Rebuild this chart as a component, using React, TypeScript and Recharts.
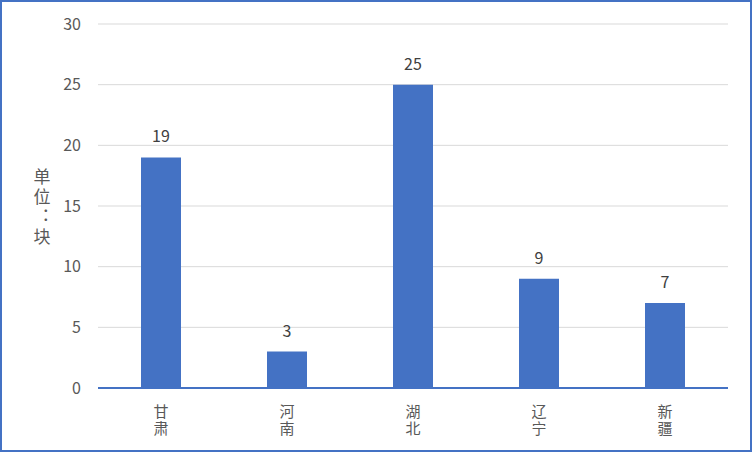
import { BarChart, Bar, XAxis, YAxis, CartesianGrid, LabelList } from 'recharts'

const provinces = ['甘肃', '河南', '湖北', '辽宁', '新疆']
const counts = [19, 3, 25, 9, 7]
const yTicks = [0, 5, 10, 15, 20, 25, 30]
const unitLabel = '单位：块'

const chartData = provinces.map((name, i) => ({ name, value: counts[i] }))

const FONT = "'Noto Sans CJK SC', 'Noto Sans', sans-serif"
const BLUE = '#4472C4'

// province names are stacked top to bottom, as in the original
function ProvinceTick(props: any) {
  const { x, y, payload } = props
  return (
    <text
      x={x}
      y={y + 8}
      fill="#595959"
      fontSize={15}
      fontFamily={FONT}
      style={{ writingMode: 'vertical-rl', letterSpacing: 2 }}
    >
      {payload.value}
    </text>
  )
}

function UnitLabel() {
  return (
    <text
      x={40}
      y={166}
      fill="#595959"
      fontSize={17}
      fontFamily={FONT}
      style={{ writingMode: 'vertical-rl', letterSpacing: 3 }}
    >
      {unitLabel}
    </text>
  )
}

export default function App() {
  return (
    <div
      style={{
        position: 'absolute',
        left: 0,
        top: 0,
        width: 752,
        height: 452,
        boxSizing: 'border-box',
        border: `2px solid ${BLUE}`,
        background: '#fff',
      }}
    >
      <BarChart
        width={748}
        height={448}
        data={chartData}
        margin={{ top: 22, right: 22, left: 0, bottom: 32 }}
      >
        <CartesianGrid vertical={false} stroke="#d9d9d9" strokeWidth={1} />
        <XAxis
          dataKey="name"
          tick={<ProvinceTick />}
          tickLine={false}
          axisLine={{ stroke: BLUE, strokeWidth: 2 }}
          height={30}
          interval={0}
        />
        <YAxis
          domain={[0, 30]}
          ticks={yTicks}
          width={96}
          tickLine={false}
          axisLine={false}
          tickMargin={11}
          tick={{ fill: '#595959', fontSize: 16, fontFamily: FONT }}
          label={<UnitLabel />}
        />
        <Bar dataKey="value" fill={BLUE} barSize={40} isAnimationActive={false}>
          <LabelList
            dataKey="value"
            position="top"
            offset={15}
            fill="#404040"
            fontSize={16}
            fontFamily={FONT}
          />
        </Bar>
      </BarChart>
    </div>
  )
}
